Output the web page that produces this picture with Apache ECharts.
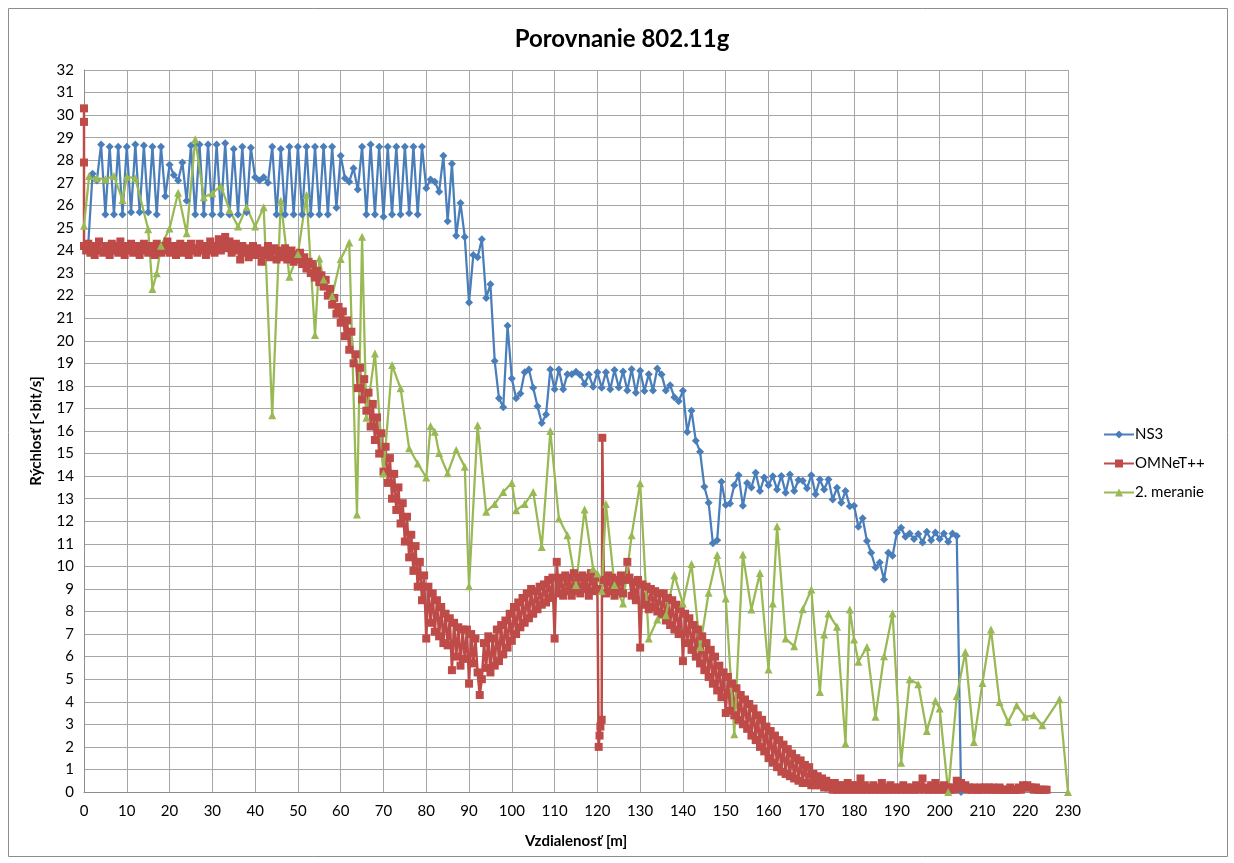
<!DOCTYPE html>
<html>
<head>
<meta charset="utf-8">
<script src="https://cdn.jsdelivr.net/npm/echarts@6/dist/echarts.min.js"></script>
<style>
html,body{margin:0;padding:0;background:#fff;}
#c{width:1234px;height:863px;}
</style>
</head>
<body>
<div id="c"></div>
<script>
// ---- NS3 (x = 1..205 m, one point per metre) ----
var ns3X = [];
var ns3Y = [
24.3,27.4,27.1,28.7,25.6,28.6,25.6,28.6,25.6,28.6,
25.7,28.7,25.7,28.65,25.7,28.6,25.6,28.6,26.4,27.8,
27.35,27.1,27.9,26.2,28.65,25.6,28.7,25.6,28.7,25.6,
28.7,25.6,28.75,25.6,28.5,25.6,28.6,25.7,28.55,27.25,
27.1,27.25,27.0,28.6,25.6,28.5,25.6,28.6,25.6,28.6,
25.6,28.6,25.6,28.6,25.6,28.6,25.6,28.6,25.9,28.2,
27.2,27.05,27.65,26.7,28.6,25.6,28.7,25.6,28.6,25.5,
28.6,25.6,28.6,25.6,28.6,25.65,28.6,25.6,28.6,26.76,
27.15,27.05,26.6,28.2,25.3,27.85,24.65,26.1,24.6,21.7,
23.8,23.7,24.5,21.9,22.5,19.1,17.45,17.05,20.66,18.33,
17.45,17.66,18.6,18.73,17.92,17.1,16.36,16.73,18.73,17.85,
18.73,17.85,18.52,18.52,18.63,18.48,18.08,18.5,17.96,18.6,
17.92,18.6,17.85,18.7,17.93,18.64,17.8,18.74,17.7,18.67,
17.77,18.52,17.8,18.77,18.5,17.8,18.03,17.5,17.32,17.78,
15.96,16.9,15.57,15.08,13.53,12.82,11.02,11.16,13.75,12.72,
12.79,13.6,14.04,12.69,13.7,13.5,14.15,13.34,13.94,13.6,
14.0,13.41,14.01,13.26,14.07,13.34,13.83,13.79,13.46,14.04,
13.2,13.85,13.41,13.85,12.96,13.48,12.82,13.34,12.67,12.69,
11.76,12.13,11.13,10.6,9.95,10.17,9.42,10.6,10.47,11.49,
11.71,11.31,11.46,11.21,11.43,11.06,11.53,11.16,11.5,11.21,
11.46,11.09,11.46,11.35,0
];
for (var i = 0; i < ns3Y.length; i++) ns3X.push(i + 1);

// ---- OMNeT++ ----
// start points at x = 0
var omStartX = [0, 0, 0, 0];
var omStartY = [29.7, 30.3, 27.9, 24.2];
// band A: x = 0.5 .. 120 step 0.5
var omAStart = 0.5;
var omAY = [
24.0,24.3,23.9,24.2,23.8,24.1,24.4,24.0,23.9,24.2,
24.1,23.8,24.3,24.0,24.2,23.9,24.4,24.1,23.8,24.2,
24.0,24.3,23.9,24.1,24.2,23.8,24.0,24.3,24.1,23.9,
24.2,24.0,23.8,24.3,24.1,23.9,24.2,24.0,24.4,23.9,
24.1,24.2,23.8,24.0,24.3,23.9,24.1,24.2,23.8,24.3,
24.0,24.1,23.9,24.3,24.0,24.2,23.8,24.1,24.4,24.0,
23.9,24.2,24.5,24.0,24.3,24.6,24.1,24.4,23.9,24.2,
24.3,24.0,23.6,24.2,23.9,24.1,23.7,24.0,24.2,23.8,
24.1,23.9,23.5,24.0,23.8,24.2,23.7,24.0,24.1,23.6,
24.0,23.7,23.9,24.1,23.6,23.8,24.0,23.5,23.8,23.6,
23.9,23.4,23.7,23.2,23.5,23.0,23.4,22.8,23.1,22.6,
22.9,22.4,22.7,22.0,22.3,21.6,21.9,21.2,21.5,20.8,
21.3,20.2,20.9,19.6,20.4,19.0,19.4,17.9,18.8,17.4,
18.3,16.9,17.7,16.2,17.2,15.6,16.6,15.0,15.9,14.2,
15.3,13.7,14.8,13.0,14.1,12.5,13.5,11.9,12.8,11.1,
12.2,10.4,11.4,9.8,10.9,9.1,10.2,8.5,9.6,6.8,
9.1,7.5,8.8,7.1,8.5,6.9,8.2,6.6,7.9,6.5,
7.7,5.4,7.5,6.0,7.3,5.6,7.2,5.9,7.2,4.8,
7.0,5.7,6.8,5.3,4.3,5.0,6.6,5.5,6.9,5.3,
6.8,5.6,7.2,5.8,7.4,6.1,7.6,6.4,7.9,6.7,
8.2,7.0,8.4,7.3,8.6,7.5,8.8,7.7,9.0,7.9,
8.9,8.1,9.1,8.3,9.2,8.4,9.4,8.6,9.5,6.8,
10.2,8.8,9.5,8.7,9.6,8.9,9.5,8.7,9.7,8.9,
9.5,8.8,9.6,9.0,9.5,8.7,9.7,8.9,9.5,9.0
];
// spike around 120-121 m
var omSpikeX = [120.3, 120.5, 120.7, 121.0, 121.15];
var omSpikeY = [2.0, 2.5, 2.9, 3.2, 15.7];
// band B: x = 121.5 .. 225 step 0.5
var omBStart = 121.5;
var omBY = [
9.4,8.8,9.6,8.9,9.5,8.7,9.4,8.9,
9.6,8.8,9.4,10.2,9.5,8.7,9.3,8.5,9.4,6.4,
9.2,8.3,9.1,8.1,9.0,8.2,8.9,8.0,8.8,7.9,
8.8,7.6,8.6,7.4,8.5,7.2,8.3,7.0,8.1,5.8,
7.9,6.6,7.7,6.3,7.4,6.0,7.2,5.7,6.9,5.4,
6.6,5.1,6.3,4.8,6.0,4.5,5.6,4.2,5.3,3.5,
5.1,3.6,4.8,3.4,4.6,3.2,4.3,3.0,4.1,2.8,
3.9,2.5,3.7,2.3,3.4,2.0,3.2,1.8,2.9,1.5,
2.7,1.3,2.5,1.1,2.3,0.9,2.1,0.8,1.9,0.7,
1.7,0.6,1.5,0.5,1.4,0.4,1.2,0.4,1.1,0.3,
0.8,0.3,0.7,0.3,0.6,0.2,0.5,0.2,0.4,0.1,
0.4,0.1,0.3,0.1,0.3,0.1,0.4,0.1,0.3,0.1,
0.3,0.1,0.6,0.1,0.3,0.1,0.2,0.1,0.3,0.1,
0.2,0.1,0.4,0.1,0.2,0.1,0.3,0.1,0.2,0.1,
0.2,0.1,0.3,0.1,0.2,0.1,0.2,0.1,0.3,0.1,
0.2,0.6,0.1,0.2,0.1,0.3,0.1,0.4,0.1,0.2,
0.1,0.3,0.1,0.2,0.1,0.2,0.1,0.5,0.2,0.4,
0.2,0.3,0.1,0.2,0.1,0.2,0.1,0.1,0.2,0.1,
0.2,0.1,0.2,0.1,0.2,0.1,0.1,0.2,0.1,0.1,
0.1,0.1,0.2,0.1,0.1,0.1,0.2,0.1,0.3,0.2,
0.3,0.2,0.2,0.1,0.2,0.1,0.1,0.1,0.1,0.1
];

// ---- 2. meranie ----
var m2X = [0,1.2,3,5,7,9,10,12,15,16,17,18,20,22,24,26,28,30,32,34,36,38,40,42,44,46,48,50,52,54,55,56,58,60,62,63.8,65,66,68,70,72,74,76,78,80,81,82,83,85,87,89,90,92,94,96,98,100,101,103,105,107,109,111,113,115,117,119,120,121,122,124,126,128,130,132,134,136,138,140,142,144,146,148,150,152,154,156,158,160,161,162,164,166,168,170,172,173,174,176,178,179,180,181,183,185,187,189,191,193,195,197,199,200,202,204,206,208,210,212,214,216,218,220,222,224,228,230];
var m2Y = [25.1,27.3,27.2,27.16,27.3,26.24,27.27,27.2,24.94,22.29,22.99,24.21,24.98,26.56,24.76,28.93,26.36,26.54,26.86,25.8,25.06,25.92,25.06,25.92,16.7,26.21,22.84,23.84,26.46,20.25,23.65,22.72,21.98,23.62,24.35,12.3,24.61,16.59,19.44,14.12,18.92,17.89,15.23,14.56,13.94,16.22,15.97,15.03,14.13,15.16,14.41,9.12,16.26,12.42,12.76,13.3,13.7,12.49,12.76,13.3,10.86,16.0,12.12,11.38,9.17,12.52,9.9,9.68,8.91,12.76,9.17,8.35,11.38,13.68,6.8,7.64,7.83,9.61,8.35,10.1,6.43,8.83,10.5,8.58,2.56,10.53,8.09,9.71,5.43,8.35,11.78,6.8,6.46,8.1,8.97,4.43,6.98,7.91,7.32,2.15,8.09,6.76,5.77,6.43,3.33,6.02,7.91,1.3,5.0,4.78,2.7,4.04,3.7,0,4.26,6.21,2.22,4.83,7.2,3.99,3.1,3.84,3.33,3.4,2.96,4.11,0];

var xTicksMax = 230, yTicksMax = 32;

function pairs(xs, ys){ var o=[]; for(var i=0;i<ys.length;i++) o.push([xs[i], ys[i]]); return o; }
function band(start, ys){ var o=[]; for(var i=0;i<ys.length;i++) o.push([start + i*0.5, ys[i]]); return o; }

var ns3Data = pairs(ns3X, ns3Y);
var omData = pairs(omStartX, omStartY).concat(band(omAStart, omAY), pairs(omSpikeX, omSpikeY), band(omBStart, omBY));
var m2Data = pairs(m2X, m2Y);

var FONT = 'Lato, "Open Sans", sans-serif';
var chart = echarts.init(document.getElementById('c'), null, {renderer:'canvas'});
chart.setOption({
  animation: false,
  backgroundColor: '#fff',
  title: {
    text: 'Porovnanie 802.11g',
    left: 617, top: 22, textAlign: 'center',
    textStyle: {fontFamily: FONT, fontWeight: 'bold', fontSize: 24, color: '#000'}
  },
  graphic: [{
    type: 'rect', shape: {x: 8.5, y: 8.5, width: 1219, height: 848},
    style: {fill: 'none', stroke: '#8c8c8c', lineWidth: 1}, silent: true, z: -10
  }],
  legend: {
    orient: 'vertical', left: 1098, top: 422, itemGap: 14,
    itemWidth: 30, itemHeight: 10,
    textStyle: {fontFamily: FONT, fontSize: 15, color: '#000', padding: [0,0,0,-4]},
    data: ['NS3', 'OMNeT++', '2. meranie']
  },
  grid: {left: 84, top: 70, right: 166, bottom: 71},
  xAxis: {
    type: 'value', min: 0, max: xTicksMax, interval: 10,
    name: 'Vzdialenosť [m]', nameLocation: 'middle', nameGap: 42,
    nameTextStyle: {fontFamily: FONT, fontWeight: 'bold', fontSize: 15, color: '#000'},
    axisLine: {lineStyle: {color: '#8c8c8c', width: 1}},
    axisTick: {show: false},
    axisLabel: {fontFamily: FONT, fontSize: 15, color: '#000', margin: 12},
    splitLine: {show: true, lineStyle: {color: '#a6a6a6', width: 1}}
  },
  yAxis: {
    type: 'value', min: 0, max: yTicksMax, interval: 1,
    name: 'Rýchlosť [<bit/s]', nameLocation: 'middle', nameGap: 40,
    nameTextStyle: {fontFamily: FONT, fontWeight: 'bold', fontSize: 15, color: '#000'},
    axisLine: {show: true, lineStyle: {color: '#8c8c8c', width: 1}},
    axisTick: {show: false},
    axisLabel: {fontFamily: FONT, fontSize: 15, color: '#000', margin: 10},
    splitLine: {show: true, lineStyle: {color: '#a6a6a6', width: 1}}
  },
  series: [
    {
      name: 'NS3', type: 'line', data: ns3Data, showAllSymbol: true,
      symbol: 'diamond', symbolSize: 8,
      lineStyle: {color: '#4a7ebb', width: 2.25},
      itemStyle: {color: '#4a7ebb'}
    },
    {
      name: 'OMNeT++', type: 'line', data: omData, showAllSymbol: true,
      symbol: 'rect', symbolSize: 8,
      lineStyle: {color: '#be4b48', width: 2.5},
      itemStyle: {color: '#be4b48'}
    },
    {
      name: '2. meranie', type: 'line', data: m2Data, showAllSymbol: true,
      symbol: 'triangle', symbolSize: 8,
      lineStyle: {color: '#98b954', width: 2.25},
      itemStyle: {color: '#98b954'}
    }
  ]
});
</script>
</body>
</html>
